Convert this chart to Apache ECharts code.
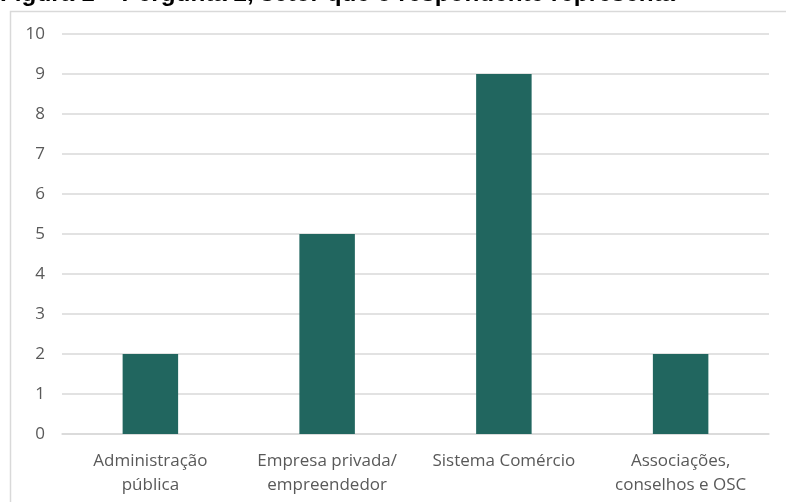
<!DOCTYPE html>
<html>
<head>
<meta charset="utf-8">
<script src="https://cdn.jsdelivr.net/npm/echarts@6/dist/echarts.min.js"></script>
<style>
  html, body { margin: 0; padding: 0; background: #fff; }
  #chart { width: 786px; height: 502px; }
</style>
</head>
<body>
<div id="chart"></div>
<script>
// dados
const categories = [
  "Administração\npública",
  "Empresa privada/\nempreendedor",
  "Sistema Comércio",
  "Associações,\nconselhos e OSC",
];
const respostas = [2, 5, 9, 2];
const yMin = 0;
const yMax = 10;
const yStep = 1;

const titleText = "Figura 1 – Pergunta 2, setor que o respondente representa";

const chart = echarts.init(document.getElementById("chart"));

const option = {
  animation: false,
  backgroundColor: "#ffffff",
  graphic: [
    {
      type: "rect",
      shape: { x: 10.5, y: 11.5, width: 800, height: 520 },
      style: { fill: "none", stroke: "#d9d9d9", lineWidth: 1.5 },
      z: -1,
    },
    {
      type: "text",
      x: 0,
      y: 6,
      style: {
        text: titleText,
        font: "bold 24.3px 'Liberation Sans', Arial, sans-serif",
        fill: "#000000",
        textVerticalAlign: "bottom",
      },
    },
  ],
  grid: {
    left: 62,
    right: 17,
    top: 34,
    bottom: 68,
  },
  xAxis: {
    type: "category",
    data: categories,
    axisLine: { show: true, lineStyle: { color: "#d9d9d9", width: 1.5 } },
    axisTick: { show: false },
    axisLabel: {
      color: "#595959",
      fontFamily: "'Open Sans', sans-serif",
      fontSize: 17,
      lineHeight: 24,
      margin: 15,
      interval: 0,
    },
  },
  yAxis: {
    type: "value",
    min: yMin,
    max: yMax,
    interval: yStep,
    axisLine: { show: false },
    axisTick: { show: false },
    axisLabel: {
      color: "#595959",
      fontFamily: "'Open Sans', sans-serif",
      fontSize: 17,
      margin: 17,
    },
    splitLine: { lineStyle: { color: "#d9d9d9", width: 1.5 } },
  },
  series: [
    {
      type: "bar",
      data: respostas,
      barWidth: "31.4%",
      itemStyle: { color: "#21665f" },
    },
  ],
};

chart.setOption(option);
</script>
</body>
</html>
